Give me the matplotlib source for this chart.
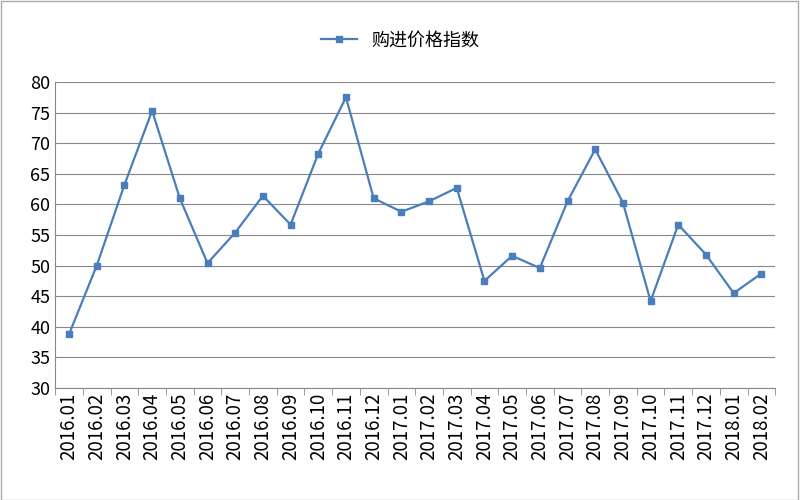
import matplotlib
matplotlib.use("Agg")
import matplotlib.pyplot as plt
import numpy as np

plt.rcParams['font.family'] = ['Noto Sans CJK SC', 'DejaVu Sans']

months = ["2016.01", "2016.02", "2016.03", "2016.04", "2016.05", "2016.06", "2016.07",
          "2016.08", "2016.09", "2016.10", "2016.11", "2016.12", "2017.01", "2017.02",
          "2017.03", "2017.04", "2017.05", "2017.06", "2017.07", "2017.08", "2017.09",
          "2017.10", "2017.11", "2017.12", "2018.01", "2018.02"]
values = [38.8, 50.0, 63.2, 75.3, 61.0, 50.4, 55.4, 61.4, 56.7, 68.3, 77.5, 61.0, 58.8,
          60.5, 62.7, 47.5, 51.6, 49.6, 60.5, 69.0, 60.3, 44.2, 56.7, 51.8, 45.5, 48.7]

fig = plt.figure(figsize=(8, 5), dpi=100)
ax = fig.add_axes([0.069, 0.224, 0.9, 0.612])
x = np.arange(len(months))
ax.plot(x, values, color='#4a7ebb', lw=1.6, marker='s', markersize=5, label='购进价格指数')
ax.set_xlim(-0.5, len(months) - 0.5)
ax.set_ylim(30, 80)
ax.set_yticks(range(30, 81, 5))
ax.yaxis.grid(True, color='#888888', lw=0.8)
ax.set_axisbelow(True)
ax.set_xticks(x)
ax.set_xticklabels(months, rotation=90, fontsize=13.5)
ax.set_xticks(np.arange(len(months) + 1) - 0.5, minor=True)
ax.tick_params(axis='y', labelsize=13, length=0)
ax.tick_params(axis='x', which='major', length=0)
ax.tick_params(axis='x', which='minor', length=5, color='#888888')
for s in ['top', 'right']:
    ax.spines[s].set_visible(False)
for s in ['left', 'bottom']:
    ax.spines[s].set_color('#888888')
fig.legend(loc='upper center', bbox_to_anchor=(0.5, 0.97), frameon=False, fontsize=13,
           handlelength=2)
fig.patches.append(plt.Rectangle((0.001, 0.001), 0.997, 0.997, transform=fig.transFigure,
                                 fill=False, edgecolor='#aaaaaa', lw=1))
fig.savefig('out.png')
